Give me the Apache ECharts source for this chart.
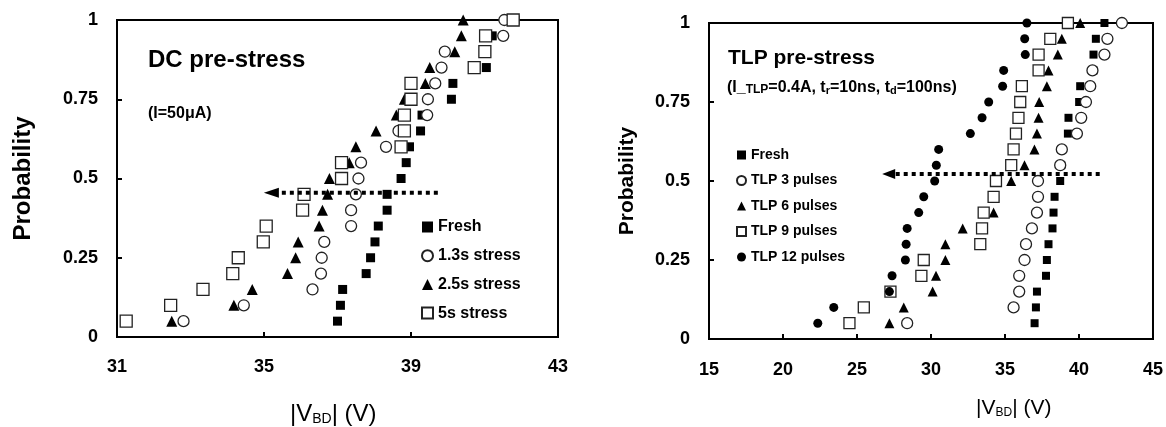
<!DOCTYPE html>
<html><head><meta charset="utf-8">
<script src="https://cdn.jsdelivr.net/npm/echarts@6/dist/echarts.min.js"></script>
<style>html,body{margin:0;padding:0;background:#fff}#c{width:1166px;height:427px}</style>
</head><body><div id="c"></div>
<script>
// cumulative probability levels (shared by all series)
const prob = [0.05,0.10,0.15,0.20,0.25,0.30,0.35,0.40,0.45,0.50,0.55,0.60,0.65,0.70,0.75,0.80,0.85,0.90,0.95,1.00];

// Left panel: DC pre-stress, |VBD| (V)
const dcFresh = [37.00,37.08,37.14,37.78,37.90,38.02,38.11,38.35,38.35,38.73,38.87,38.96,39.26,39.30,40.10,40.14,41.05,41.05,41.21,41.83];
const dc13s   = [32.81,34.45,36.32,36.55,36.57,36.64,37.37,37.37,37.50,37.57,37.64,38.32,38.66,39.44,39.46,39.66,39.83,39.92,41.51,41.54];
const dc25s   = [32.49,34.18,34.68,35.64,35.86,35.93,36.50,36.59,36.73,36.78,37.32,37.50,38.05,38.60,38.82,39.39,39.51,40.19,40.37,40.42];
const dc5s    = [31.25,32.46,33.34,34.15,34.30,34.98,35.06,36.05,36.09,37.11,37.11,38.73,38.82,38.82,39.00,39.00,40.72,41.01,41.03,41.78];
const dcArrowLine = [[39.73,0.455],[35.25,0.455]];
const dcArrowHead = [[35.2,0.455]];

// Right panel: TLP pre-stress
const tlpFresh = [37.00,37.09,37.16,37.77,37.83,37.94,38.21,38.28,38.35,38.73,38.80,38.84,39.25,39.29,40.01,40.08,40.98,40.98,41.14,41.72];
const tlp3  = [28.39,35.58,35.96,35.96,36.32,36.42,36.82,37.16,37.23,37.23,38.73,38.84,39.86,40.15,40.47,40.76,40.91,41.72,41.92,42.90];
const tlp6  = [27.19,28.16,30.11,30.34,30.97,30.97,32.14,34.23,34.23,35.42,36.32,36.99,37.16,37.27,37.31,37.83,37.94,38.57,38.84,40.08];
const tlp9  = [24.49,25.46,27.26,29.35,29.51,33.33,33.45,33.56,34.23,34.39,35.42,35.58,35.74,35.91,36.03,36.14,37.27,37.27,38.06,39.25];
const tlp12 = [22.35,23.43,27.19,27.37,28.27,28.32,28.39,29.17,29.51,30.25,30.36,30.52,32.66,33.45,33.90,34.84,34.91,36.37,36.33,36.48];
const tlpArrowLine = [[41.4,0.522],[27.3,0.522]];
const tlpArrowHead = [[27.14,0.522]];

const dcNames  = ['Fresh','1.3s stress','2.5s stress','5s stress'];
const tlpNames = ['Fresh','TLP 3 pulses','TLP 6 pulses','TLP 9 pulses','TLP 12 pulses'];
const dcTicks = {min:31, max:43, interval:4};
const tlpTicks = {min:15, max:45, interval:5};

const F = '"Liberation Sans", Arial, sans-serif';
const chart = echarts.init(document.getElementById('c'), null, {renderer:'canvas'});

function xAxis(gi, t, margin){
  return {gridIndex:gi, type:'value', min:t.min, max:t.max, interval:t.interval,
    axisLine:{show:true, onZero:false, lineStyle:{color:'#000', width:2}},
    axisTick:{show:true, inside:true, length:5, lineStyle:{color:'#000', width:2}},
    splitLine:{show:false},
    axisLabel:{color:'#000', fontFamily:F, fontWeight:'bold', fontSize:18, margin:margin}};
}
function yAxis(gi, gap, fs){
  return {gridIndex:gi, type:'value', min:0, max:1, interval:0.25,
    name:'Probability', nameLocation:'middle', nameGap:gap,
    nameTextStyle:{color:'#000', fontFamily:F, fontWeight:'bold', fontSize:fs},
    axisLine:{show:true, onZero:false, lineStyle:{color:'#000', width:2}},
    axisTick:{show:true, inside:true, length:5, lineStyle:{color:'#000', width:2}},
    splitLine:{show:false},
    axisLabel:{color:'#000', fontFamily:F, fontWeight:'bold', fontSize:18, margin:19}};
}
function pts(xs){ return xs.map((x,i)=>[x, prob[i]]); }
function sc(name, xs, gi, symbol, size, filled){
  return {type:'scatter', name:name, xAxisIndex:gi, yAxisIndex:gi, data:pts(xs),
    symbol:symbol, symbolSize:size,
    itemStyle: filled ? {color:'#000', opacity:1} : {color:'#fff', borderColor:'#222', borderWidth:1.3, opacity:1},
    emphasis:{disabled:true}};
}
function arrow(gi, line, head, hs){
  return [
    {type:'line', xAxisIndex:gi, yAxisIndex:gi, data:line, symbol:'none', silent:true,
     lineStyle:{color:'#000', width:4, type:[4,4], cap:'butt'}, z:5},
    {type:'scatter', xAxisIndex:gi, yAxisIndex:gi, data:head, symbol:'triangle', symbolRotate:90,
     symbolSize:hs, itemStyle:{color:'#000', opacity:1}, silent:true, z:5}
  ];
}

const titleStyle = (fs, fw) => ({color:'#000', fontFamily:F, fontSize:fs, fontWeight:fw, lineHeight:fs});

chart.setOption({
  animation:false,
  backgroundColor:'#fff',
  grid:[
    {left:117, top:20, width:441, height:317, show:true, borderColor:'#000', borderWidth:2, backgroundColor:'transparent'},
    {left:709, top:23, width:445, height:316, show:true, borderColor:'#000', borderWidth:2, backgroundColor:'transparent'}
  ],
  xAxis:[xAxis(0, dcTicks, 21), xAxis(1, tlpTicks, 22)],
  yAxis:[yAxis(0, 82, 24), yAxis(1, 71, 21)],
  title:[
    {text:'DC pre-stress', left:148, top:48, padding:0, textStyle:titleStyle(24,'bold')},
    {text:'(I=50μA)', left:148, top:106, padding:0, textStyle:titleStyle(16,'bold')},
    {text:'TLP pre-stress', left:728, top:48, padding:0, textStyle:titleStyle(21,'bold')},
    {text:'(I_{s|TLP}=0.4A, t{sb|r}=10ns, t{sb|d}=100ns)', left:727, top:79, padding:0,
     textStyle:{color:'#000', fontFamily:F, fontSize:16, fontWeight:'bold', lineHeight:17, verticalAlign:'bottom',
       rich:{s:{fontSize:12, fontWeight:'bold', fontFamily:F, lineHeight:17, verticalAlign:'bottom'},
             sb:{fontSize:11, fontWeight:'bold', fontFamily:F, lineHeight:14, verticalAlign:'bottom'}}}},
    {text:'|V{b|BD}| (V)', left:290, top:402, padding:0,
     textStyle:{color:'#000', fontFamily:F, fontSize:24, fontWeight:'normal', lineHeight:24, verticalAlign:'bottom',
       rich:{b:{fontSize:14, fontWeight:'normal', fontFamily:F, lineHeight:16, verticalAlign:'bottom'}}}},
    {text:'|V{b|BD}| (V)', left:976, top:398, padding:0,
     textStyle:{color:'#000', fontFamily:F, fontSize:21, fontWeight:'normal', lineHeight:21, verticalAlign:'bottom',
       rich:{b:{fontSize:12, fontWeight:'normal', fontFamily:F, lineHeight:14, verticalAlign:'bottom'}}}}
  ],
  legend:[
    {data:dcNames, orient:'vertical', left:421, top:219, padding:0, itemWidth:11, itemHeight:11, itemGap:12.7,
     selectedMode:false, textStyle:{color:'#000', fontFamily:F, fontWeight:'bold', fontSize:16, lineHeight:16}},
    {data:tlpNames, orient:'vertical', left:736, top:148, padding:0, itemWidth:9, itemHeight:9, itemGap:11.5,
     selectedMode:false, textStyle:{color:'#000', fontFamily:F, fontWeight:'bold', fontSize:14, lineHeight:14}}
  ],
  series:[
    sc('Fresh', dcFresh, 0, 'rect', 9, true),
    sc('1.3s stress', dc13s, 0, 'circle', 11, false),
    sc('2.5s stress', dc25s, 0, 'triangle', 11, true),
    sc('5s stress', dc5s, 0, 'rect', 12, false),
    ...arrow(0, dcArrowLine, dcArrowHead, [10,15]),
    sc('Fresh', tlpFresh, 1, 'rect', 8, true),
    sc('TLP 3 pulses', tlp3, 1, 'circle', 11, false),
    sc('TLP 6 pulses', tlp6, 1, 'triangle', 10, true),
    sc('TLP 9 pulses', tlp9, 1, 'rect', 11, false),
    sc('TLP 12 pulses', tlp12, 1, 'circle', 9, true),
    ...arrow(1, tlpArrowLine, tlpArrowHead, [10,13])
  ]
});
</script></body></html>
